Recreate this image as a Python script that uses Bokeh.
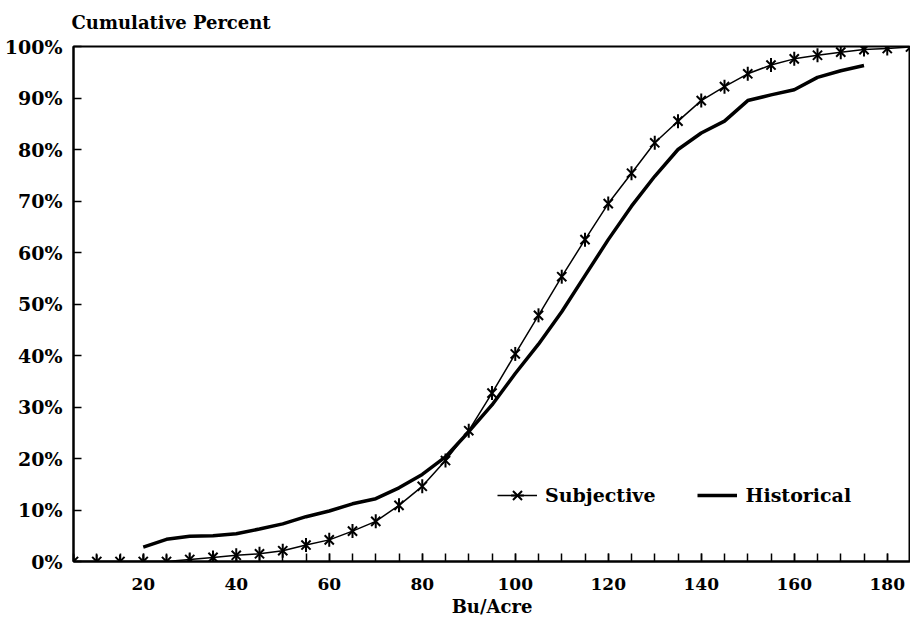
from bokeh.plotting import figure
from bokeh.models import Range1d, FixedTicker, PrintfTickFormatter, Legend, LegendItem
from bokeh.embed import file_html
from bokeh.resources import INLINE

# Subjective cumulative distribution (every 5 Bu/Acre)
subj_x = [5, 10, 15, 20, 25, 30, 35, 40, 45, 50, 55, 60, 65, 70, 75, 80, 85, 90, 95,
          100, 105, 110, 115, 120, 125, 130, 135, 140, 145, 150, 155, 160, 165, 170,
          175, 180, 185]
subj_y = [0, 0, 0, 0, 0, 0.4, 0.8, 1.2, 1.5, 2.1, 3.2, 4.2, 5.9, 7.8, 10.9, 14.6, 19.6,
          25.4, 32.7, 40.3, 47.8, 55.3, 62.5, 69.5, 75.4, 81.3, 85.5, 89.5, 92.2, 94.7,
          96.4, 97.6, 98.3, 98.9, 99.4, 99.6, 99.9]

# Historical cumulative distribution
hist_x = [20, 25, 30, 35, 40, 45, 50, 55, 60, 65, 70, 75, 80, 85, 90, 95, 100, 105,
          110, 115, 120, 125, 130, 135, 140, 145, 150, 155, 160, 165, 170, 175]
hist_y = [2.8, 4.3, 4.9, 5.0, 5.4, 6.3, 7.3, 8.7, 9.8, 11.2, 12.2, 14.3, 16.9, 20.3,
          25.2, 30.4, 36.5, 42.2, 48.5, 55.5, 62.5, 69.0, 74.8, 80.0, 83.2, 85.5, 89.5,
          90.6, 91.6, 94.0, 95.3, 96.3]

x_ticks = [20, 40, 60, 80, 100, 120, 140, 160, 180]
x_minor = list(range(5, 186, 5))
y_ticks = [0, 10, 20, 30, 40, 50, 60, 70, 80, 90, 100]

FONT = "DejaVu Serif"

p = figure(width=910, height=626, output_backend="svg", toolbar_location=None,
           x_range=Range1d(5, 185), y_range=Range1d(0, 100),
           min_border_left=73, min_border_right=0, min_border_top=46, min_border_bottom=65)

p.title.text = "Cumulative Percent"
p.title.text_font = FONT
p.title.text_font_style = "bold"
p.title.text_font_size = "18px"
p.title.text_color = "black"
p.title.align = "left"
p.title.vertical_align = "top"
p.title.offset = -2
p.title.standoff = 23

p.grid.visible = False
p.outline_line_color = "black"
p.outline_line_width = 2
p.background_fill_color = "white"
p.border_fill_color = "white"

xa = p.xaxis[0]
xa.ticker = FixedTicker(ticks=x_ticks, minor_ticks=x_minor)
xa.axis_label = "Bu/Acre"
ya = p.yaxis[0]
ya.ticker = FixedTicker(ticks=y_ticks)
ya.formatter = PrintfTickFormatter(format="%d%%")

for ax in (xa, ya):
    ax.axis_line_width = 2
    ax.axis_line_color = "black"
    ax.major_tick_in = 8
    ax.major_tick_out = 0
    ax.minor_tick_in = 8
    ax.minor_tick_out = 0
    ax.major_tick_line_width = 1.5
    ax.minor_tick_line_width = 1.5
    ax.major_label_text_font = FONT
    ax.major_label_text_font_style = "bold"
    ax.major_label_text_color = "black"
    ax.axis_label_text_font = FONT
    ax.axis_label_text_font_style = "bold"
    ax.axis_label_text_font_size = "18px"
    ax.axis_label_text_color = "black"
ya.major_label_text_font_size = "19px"
xa.major_label_text_font_size = "17px"
ya.minor_tick_in = 0
ya.major_label_standoff = 11
xa.major_label_standoff = 16
xa.axis_label_standoff = 3

sl = p.line(subj_x, subj_y, line_color="black", line_width=1.5)
sx = p.scatter(subj_x, subj_y, marker="x", size=13, line_color="black", line_width=2)
sd = p.scatter(subj_x, subj_y, marker="dash", angle=1.5708, size=14, line_color="black", line_width=2)
hl = p.line(hist_x, hist_y, line_color="black", line_width=3.5)

legend = Legend(items=[LegendItem(label="Subjective", renderers=[sl, sx, sd]),
                       LegendItem(label="Historical", renderers=[hl])],
                orientation="horizontal", location=(424, 50),
                glyph_width=40, glyph_height=32, spacing=42, label_standoff=8,
                label_text_font=FONT, label_text_font_style="bold",
                label_text_font_size="19px", label_text_color="black",
                border_line_color=None, background_fill_alpha=0)
p.add_layout(legend, "center")

open("out.html", "w").write(file_html(p, INLINE))
